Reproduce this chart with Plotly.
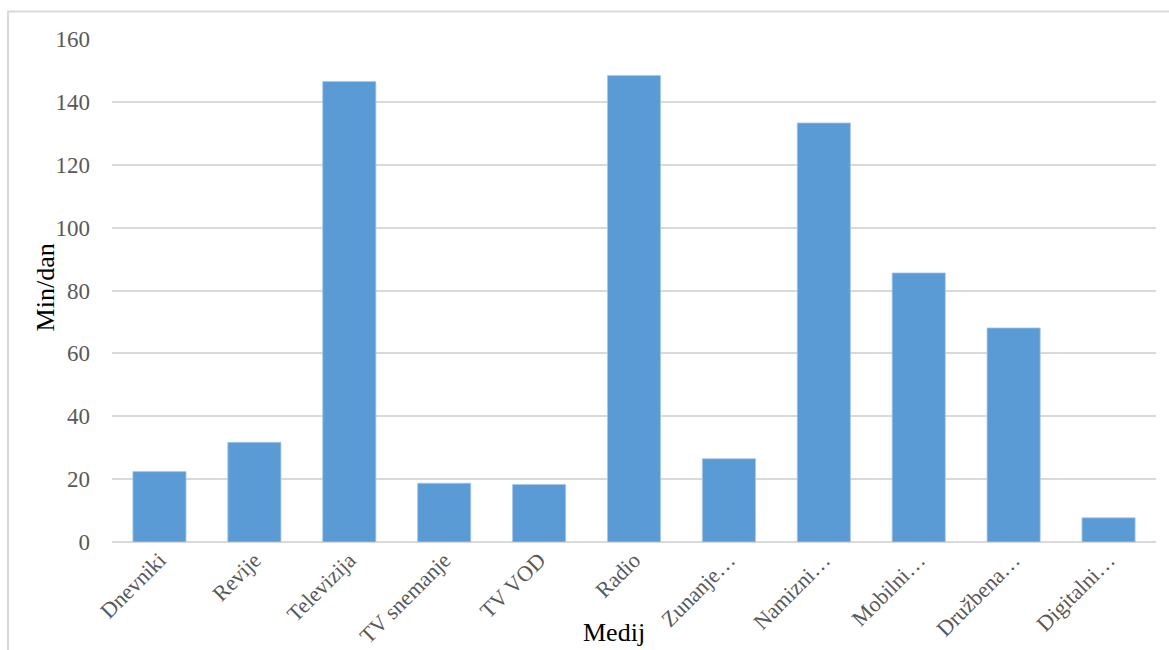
import plotly.graph_objects as go

# Average daily time spent per medium (minutes per day)
categories = ["Dnevniki", "Revije", "Televizija", "TV snemanje", "TV VOD", "Radio",
              "Zunanje…", "Namizni…", "Mobilni…", "Družbena…", "Digitalni…"]
minutes = [22.4, 31.7, 146.5, 18.7, 18.3, 148.4, 26.5, 133.3, 85.6, 68.1, 7.7]
y_ticks = [0, 20, 40, 60, 80, 100, 120, 140, 160]

W, H = 1169, 650
L, R, T, B = 112, 13, 38.5, 108.3
plot_w = W - L - R
plot_h = H - T - B

def px_x(x):
    return (x - L) / plot_w

def px_y(y):
    return (H - B - y) / plot_h

serif = "Liberation Serif, Times New Roman, serif"
grid = "#d9d9d9"

fig = go.Figure(go.Bar(
    x=categories,
    y=minutes,
    marker=dict(color="#5b9bd5", line=dict(color="#a9c8ea", width=0.8)),
))

fig.update_layout(
    width=W, height=H,
    margin=dict(l=L, r=R, t=T, b=B, autoexpand=False),
    paper_bgcolor="white",
    plot_bgcolor="white",
    bargap=0.44,
    showlegend=False,
    font=dict(family=serif, color="#595959"),
    xaxis=dict(
        tickangle=-45,
        tickfont=dict(size=22, color="#595959"),
        showgrid=False,
        showline=False,
        ticks="",
        automargin=False,
    ),
    yaxis=dict(
        range=[0, 160],
        tickvals=y_ticks,
        tickfont=dict(size=23, color="#595959"),
        showgrid=True,
        gridcolor=grid,
        gridwidth=2,
        zeroline=True,
        zerolinecolor=grid,
        zerolinewidth=2,
        showline=False,
        ticks="",
        ticklabelstandoff=21,
        automargin=False,
    ),
    shapes=[dict(
        type="rect", xref="paper", yref="paper",
        x0=px_x(8), x1=px_x(1180), y0=px_y(700), y1=px_y(11),
        line=dict(color="#d9d9d9", width=2), fillcolor="rgba(0,0,0,0)", layer="below",
    )],
    annotations=[
        dict(text="Min/dan", xref="paper", yref="paper", x=px_x(45), y=px_y(287),
             xanchor="center", yanchor="middle",
             showarrow=False, textangle=-90, font=dict(family=serif, size=26, color="black")),
        dict(text="Medij", xref="paper", yref="paper", x=px_x(614), y=px_y(632),
             xanchor="center", yanchor="middle",
             showarrow=False, font=dict(family=serif, size=26, color="black")),
    ],
)

fig.write_html("out.html")
